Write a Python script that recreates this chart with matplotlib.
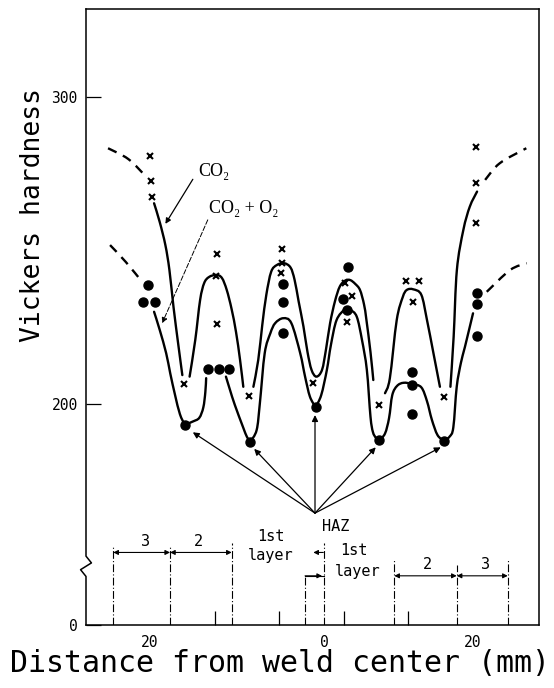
import numpy as np
import matplotlib
matplotlib.use("Agg")
import matplotlib.pyplot as plt
from matplotlib.path import Path
from matplotlib.patches import PathPatch

# measured points: CO2 (crosses)
co2_x = [-20.0, -19.9, -19.8, -11.7, -11.8, -11.7, -15.8, -7.8, -3.6, -3.6, -3.8, 0.2,
         4.2, 5.0, 4.4, 8.4, 11.7, 13.3, 12.6, 16.4, 20.4, 20.4, 20.4]
co2_hv = [280.8, 272.7, 267.5, 248.9, 241.8, 226.1, 206.6, 202.7, 250.5, 245.9, 242.7, 206.8,
          239.6, 235.3, 226.7, 199.8, 240.2, 240.2, 233.2, 202.3, 283.8, 272.1, 258.9]

# measured points: CO2 + O2 (dots)
o2_x = [-20.2, -20.9, -19.4, -15.7, -12.8, -11.5, -10.2, -7.6, -3.5, -3.5, -3.5, 0.5,
        4.5, 3.9, 4.4, 8.4, 12.5, 12.5, 12.5, 16.4, 20.5, 20.5, 20.5]
o2_hv = [238.8, 233.3, 233.3, 193.3, 211.5, 211.5, 211.5, 187.8, 239.1, 233.2, 223.3, 199.1,
         244.8, 234.2, 230.7, 188.3, 210.4, 206.4, 196.7, 188.1, 236.3, 232.5, 222.3]

# hand drawn curves, traced (x mm, HV); dashed ends + solid pieces
co2_dash = [
    ([-25.2, -22.7, -20.5], [283.3, 279.8, 274.1]),
    ([21.5, 23.3, 26.6], [273.0, 278.4, 283.3]),
]
co2_solid = [
    ([-19.5, -18.8, -18.1, -17.6, -17.1, -16.5, -16.0],
     [265.4, 259.3, 251.8, 243.7, 231.8, 219.4, 209.5]),
    ([-15.1, -14.4, -13.8, -13.3, -12.7, -11.8, -11.1, -10.5, -9.9, -9.35, -8.85, -8.45],
     [209.0, 220.9, 233.9, 239.4, 241.4, 242.1, 241.1, 237.2, 231.0, 223.5, 214.4, 205.7]),
    ([-7.2, -6.6, -6.1, -5.6, -5.0, -4.3, -3.4, -2.6, -2.1, -1.6, -1.0, -0.5, 0.0, 0.6, 1.3,
      1.8, 2.3, 2.9, 3.5, 4.2, 4.8, 5.4, 6.0, 6.5, 6.8, 7.3, 7.65],
     [205.7, 214.4, 225.8, 235.6, 243.1, 245.3, 245.9, 244.5, 240.5, 233.5, 225.3, 217.0,
      211.2, 209.0, 211.2, 218.0, 226.4, 233.5, 238.3, 240.3, 240.4, 239.2, 237.2, 232.5,
      227.4, 217.0, 207.9]),
    ([9.1, 9.7, 10.55, 11.3, 11.8, 12.6, 13.6, 14.3, 15.1, 15.9],
     [203.6, 208.5, 227.4, 234.9, 237.2, 237.4, 235.6, 227.4, 216.6, 205.7]),
    ([17.2, 17.6, 18.0, 18.8, 19.6, 20.5],
     [205.7, 222.0, 243.7, 256.7, 264.3, 269.2]),
]
o2_dash = [
    ([-24.95, -23.0, -21.0], [251.8, 246.3, 239.9]),
    ([21.7, 24.6, 26.65], [236.6, 243.7, 245.9]),
]
o2_solid = [
    ([-19.5, -18.8, -18.0, -17.5, -16.9, -16.3, -15.7],
     [230.1, 224.2, 216.6, 210.1, 203.0, 196.8, 193.3]),
    ([-15.7, -14.7, -13.9, -13.4, -13.15, -13.05],
     [193.3, 194.4, 195.6, 199.0, 204.0, 208.5]),
    ([-10.6, -10.1, -9.5, -8.5, -8.0, -7.6],
     [209.0, 204.7, 199.8, 192.7, 189.4, 187.8]),
    ([-7.6, -6.8, -6.4, -5.8, -5.1, -4.5, -3.5, -2.5, -1.4, -0.8, -0.2, 0.5],
     [187.8, 191.6, 200.3, 216.6, 223.1, 226.4, 228.0, 226.4, 216.6, 209.0, 202.5, 199.1]),
    ([0.5, 1.2, 1.9, 2.4, 3.1, 4.15, 4.8, 5.6, 6.25, 6.85, 7.3, 7.6, 8.0, 8.4],
     [199.1, 203.0, 211.2, 219.3, 227.4, 230.9, 230.7, 228.5, 220.9, 211.2, 196.0, 191.0,
      189.0, 188.3]),
    ([8.4, 9.1, 9.6, 10.0, 10.6, 11.4, 12.5, 13.6, 14.3, 14.9, 15.6, 16.4],
     [188.3, 190.5, 195.5, 203.0, 206.0, 207.0, 206.6, 205.5, 201.0, 195.0, 190.0, 188.1]),
    ([16.4, 17.1, 17.56, 17.98, 18.5, 19.0, 20.0],
     [188.1, 189.5, 192.5, 205.7, 213.5, 218.7, 229.6]),
]

# HAZ arrows: start and the five tips
haz_from = (0.43, 164.6)
haz_tip_x = [-14.7, -7.1, 0.43, 7.95, 16.0]
haz_tip_hv = [190.9, 185.5, 196.5, 186.0, 186.0]

# layer boundaries (x mm) and their upper ends (HV)
bound_x = [-24.55, -17.52, -9.88, 1.59, -0.80, 10.25, 17.98, 24.30]
bound_top = [154.2, 154.2, 154.9, 154.9, 144.2, 149.3, 147.7, 149.3]

meas_ticks = [-20, -12, -4, 4, 12, 20]
xlabel_pos = [-20, 1.55, 20]
xlabel_txt = ["20", "0", "20"]
y_low, y_high = 128.2, 328.6
ylabel_pos = [y_low, 200, 300]
ylabel_txt = ["0", "200", "300"]


def smooth(xs, ys):
    # catmull-rom through the traced points, drawn as cubic bezier
    p = np.column_stack([xs, ys]).astype(float)
    n = len(p)
    verts = [p[0]]
    codes = [Path.MOVETO]
    for i in range(n - 1):
        p0, p1, p2, p3 = p[max(i - 1, 0)], p[i], p[i + 1], p[min(i + 2, n - 1)]
        verts += [p1 + (p2 - p0) / 6, p2 - (p3 - p1) / 6, p2]
        codes += [Path.CURVE4] * 3
    return Path(verts, codes)


fig = plt.figure(figsize=(5.54, 6.88), dpi=100)
ax = fig.add_axes([86 / 554, 63 / 688, 453 / 554, 616 / 688])
ax.set_xlim(-27.93, 28.17)
ax.set_ylim(y_low, y_high)

for xs, ys in co2_solid + o2_solid:
    ax.add_patch(PathPatch(smooth(xs, ys), fill=False, lw=1.7, color="k", capstyle="round"))
for xs, ys in co2_dash + o2_dash:
    ax.add_patch(PathPatch(smooth(xs, ys), fill=False, lw=1.7, color="k",
                           linestyle=(0, (4, 3))))

ax.plot(co2_x, co2_hv, ls="none", marker="x", ms=4.5, mew=1.5, color="k", zorder=5)
ax.plot(o2_x, o2_hv, ls="none", marker="o", ms=6.5, color="k", zorder=5)

# labels for the two curves
ax.text(-14.0, 275.6, "CO₂", family=["Liberation Serif", "DejaVu Serif"], fontsize=13,
        va="center", ha="left")
ax.text(-12.7, 263.6, "CO₂ + O₂", family=["Liberation Serif", "DejaVu Serif"], fontsize=13,
        va="center", ha="left")
ax.annotate("", xy=(-18.1, 258.7), xytext=(-14.7, 273.2),
            arrowprops=dict(arrowstyle="-|>", lw=0.9, color="k", mutation_scale=8,
                            shrinkA=0, shrinkB=0))
ax.annotate("", xy=(-18.5, 226.4), xytext=(-12.85, 260.0),
            arrowprops=dict(arrowstyle="-|>", lw=0.7, color="k", mutation_scale=8,
                            shrinkA=0, shrinkB=0, linestyle=(0, (5, 2))))

# HAZ
for tx, ty in zip(haz_tip_x, haz_tip_hv):
    ax.annotate("", xy=(tx, ty), xytext=haz_from,
                arrowprops=dict(arrowstyle="-|>", lw=0.9, color="k", mutation_scale=9,
                                shrinkA=0, shrinkB=0))
ax.text(1.3, 160.2, "HAZ", family="DejaVu Sans Mono", fontsize=11, va="center", ha="left")

# layer widths along the bottom
for bx, bt in zip(bound_x, bound_top):
    ax.plot([bx, bx], [y_low, bt], color="k", lw=0.8, ls=(0, (7, 2, 1, 2)))
ax.plot([-0.80, 1.59], [144.2, 144.2], color="k", lw=0.8)

dim = dict(arrowstyle="<|-|>", lw=0.8, color="k", mutation_scale=7, shrinkA=0, shrinkB=0)
ax.annotate("", xy=(-24.55, 151.8), xytext=(-17.52, 151.8), arrowprops=dim)
ax.annotate("", xy=(-17.52, 151.8), xytext=(-9.88, 151.8), arrowprops=dim)
ax.annotate("", xy=(10.25, 144.2), xytext=(17.98, 144.2), arrowprops=dim)
ax.annotate("", xy=(17.98, 144.2), xytext=(24.30, 144.2), arrowprops=dim)
one = dict(arrowstyle="-|>", lw=0.8, color="k", mutation_scale=7, shrinkA=0, shrinkB=0)
ax.annotate("", xy=(0.22, 151.8), xytext=(1.46, 151.8), arrowprops=one)
ax.annotate("", xy=(1.3, 144.2), xytext=(-0.8, 144.2), arrowprops=one)

mono = dict(family="DejaVu Sans Mono", fontsize=11, ha="center", va="center")
ax.text(-20.6, 155.5, "3", **mono)
ax.text(-14.0, 155.5, "2", **mono)
ax.text(14.3, 147.9, "2", **mono)
ax.text(21.5, 147.9, "3", **mono)
ax.text(-5.0, 156.9, "1st", **mono)
ax.text(-5.1, 150.8, "layer", **mono)
ax.text(5.2, 152.4, "1st", **mono)
ax.text(5.7, 145.6, "layer", **mono)

# axes and ticks
ax.set_xticks(xlabel_pos)
ax.set_xticklabels(xlabel_txt, family="DejaVu Sans Mono", fontsize=10.5)
ax.set_xticks(meas_ticks, minor=True)
ax.tick_params(axis="x", which="major", length=0, pad=7)
ax.tick_params(axis="x", which="minor", direction="in", length=10, width=0.9)
ax.set_yticks(ylabel_pos)
ax.set_yticklabels(ylabel_txt, family="DejaVu Sans Mono", fontsize=10.5)
ax.tick_params(axis="y", direction="in", length=11, width=0.9, pad=6)
for s in ax.spines.values():
    s.set_linewidth(1.1)
ax.spines["left"].set_visible(False)

# left spine with the axis break
ytr = ax.get_yaxis_transform()
ax.plot([0, 0, -0.012, 0.012, 0, 0], [y_low, 144.0, 146.2, 148.4, 150.6, y_high],
        color="k", lw=1.1, transform=ytr, clip_on=False)

fig.text(33 / 554, 1 - 215 / 688, "Vickers hardness", rotation=90, family="DejaVu Sans Mono",
         fontsize=19, ha="center", va="center")
fig.text(280 / 554, 1 - 663 / 688, "Distance from weld center (mm)", family="DejaVu Sans Mono",
         fontsize=21.5, ha="center", va="center")

fig.savefig("out.png", dpi=100)
